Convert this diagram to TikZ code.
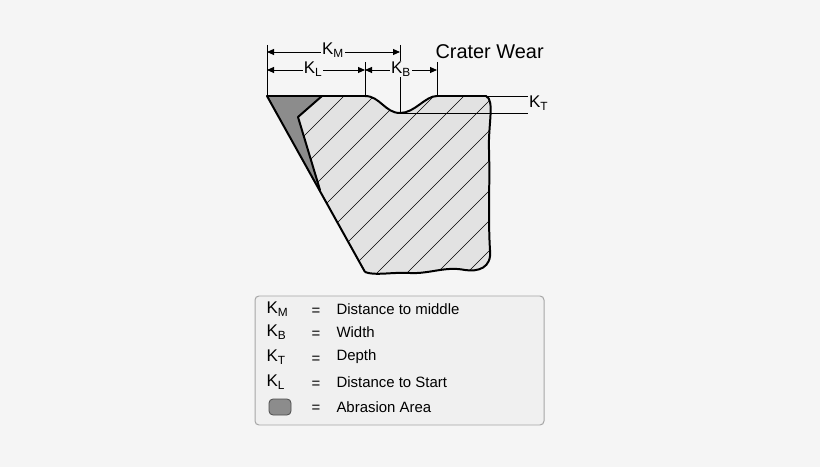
\documentclass[tikz,border=0pt]{standalone}
\usepackage{fontspec}
\setmainfont{Liberation Sans}
\usetikzlibrary{arrows.meta}
\definecolor{bg}{HTML}{F5F5F5}
\definecolor{body}{HTML}{E2E2E2}
\definecolor{abr}{HTML}{8C8C8C}
\begin{document}
\begin{tikzpicture}[x=1bp,y=-1bp,
  dim/.style={line width=0.9pt,{Triangle[length=7bp,width=6bp]}-{Triangle[length=7bp,width=6bp]}},
  ext/.style={line width=0.8pt},
  lab/.style={fill=bg,inner sep=1pt,font=\fontsize{17}{17}\selectfont},
  leg/.style={anchor=west,font=\fontsize{15}{15}\selectfont}]
\fill[bg] (0,0) rectangle (820,467);
\useasboundingbox (0,0) rectangle (820,467);
% body
\def\bodypath{(322,96) -- (365,96) .. controls (380,96) and (385,113) .. (400,113) .. controls (415,113) and (425,96) .. (437,96) -- (486,96) .. controls (495,100) and (488,125) .. (489,150) .. controls (490,180) and (488,220) .. (490,250) .. controls (492,268) and (478,272) .. (465,270) .. controls (445,266) and (430,274) .. (410,273) .. controls (390,272) and (375,276) .. (365,272) -- (320,190) -- (298,117) -- cycle}
\fill[body] \bodypath;
\begin{scope}
\clip \bodypath;
\foreach \i in {0,...,16} {
  \draw[line width=0.6pt] (250+\i*30,130) ++(-200,200) -- ++(400,-400);
}
\end{scope}
\fill[abr] (267,96) -- (322,96) -- (298,117) -- (320,190) -- cycle;
\draw[line width=2pt,line join=round] (322,96) -- (298,117) -- (320,190);
\draw[line width=2pt,line join=round] (365,272) -- (267,96) -- (365,96) .. controls (380,96) and (385,113) .. (400,113) .. controls (415,113) and (425,96) .. (437,96) -- (486,96) .. controls (495,100) and (488,125) .. (489,150) .. controls (490,180) and (488,220) .. (490,250) .. controls (492,268) and (478,272) .. (465,270) .. controls (445,266) and (430,274) .. (410,273) .. controls (390,272) and (375,276) .. (365,272);
% extension lines
\coordinate (a0) at (267,45); \coordinate (a1) at (267,96);
\coordinate (b0) at (365,62); \coordinate (b1) at (365,96);
\coordinate (c0) at (400,45); \coordinate (c1) at (400,113);
\coordinate (d0) at (437,62); \coordinate (d1) at (437,96);
\draw[ext] (a0)--(a1) (b0)--(b1) (c0)--(c1) (d0)--(d1);
\coordinate (km1) at (267,52); \coordinate (km2) at (400,52);
\coordinate (kl1) at (267,70); \coordinate (kl2) at (365,70);
\coordinate (kb1) at (365,70); \coordinate (kb2) at (437,70);
\draw[dim] (km1) -- (km2);
\draw[dim] (kl1) -- (kl2);
\draw[dim] (kb1) -- (kb2);
\node[lab] (KM) at (333,50) {K\textsubscript{M}};
\node[lab] (KL) at (313,69) {K\textsubscript{L}};
\node[lab] (KB) at (401,69) {K\textsubscript{B}};
\node[anchor=west,font=\fontsize{20}{20}\selectfont] (CW) at (432,52) {Crater Wear};
% KT
\coordinate (t1) at (486,96); \coordinate (t2) at (528,96);
\coordinate (t3) at (400,113); \coordinate (t4) at (528,113);
\draw[ext] (t1)--(t2) (t3)--(t4);
\node[anchor=west,font=\fontsize{17}{17}\selectfont,inner sep=1pt] (KT) at (528,103) {K\textsubscript{T}};
% legend
\draw[draw=gray!70,fill=gray!12,line width=1pt,rounded corners=4bp] (255,296) rectangle (544,425);
\foreach \y/\k/\t in {309/M/Distance to middle,332/B/Width,357/T/Depth,382/L/Distance to Start} {
  \node[leg,font=\fontsize{17}{17}\selectfont] at (263,\y) {K\textsubscript{\k}};
  \node[leg] at (308,\y+3) {=};
  \node[leg] at (333,\y) {\t};
}
\draw[fill=abr,draw=gray!60!black,line width=0.8pt,rounded corners=4bp] (269,399) rectangle (291,415);
\node[leg] at (308,409) {=};
\node[leg] at (333,407) {Abrasion Area};
\end{tikzpicture}
\end{document}
